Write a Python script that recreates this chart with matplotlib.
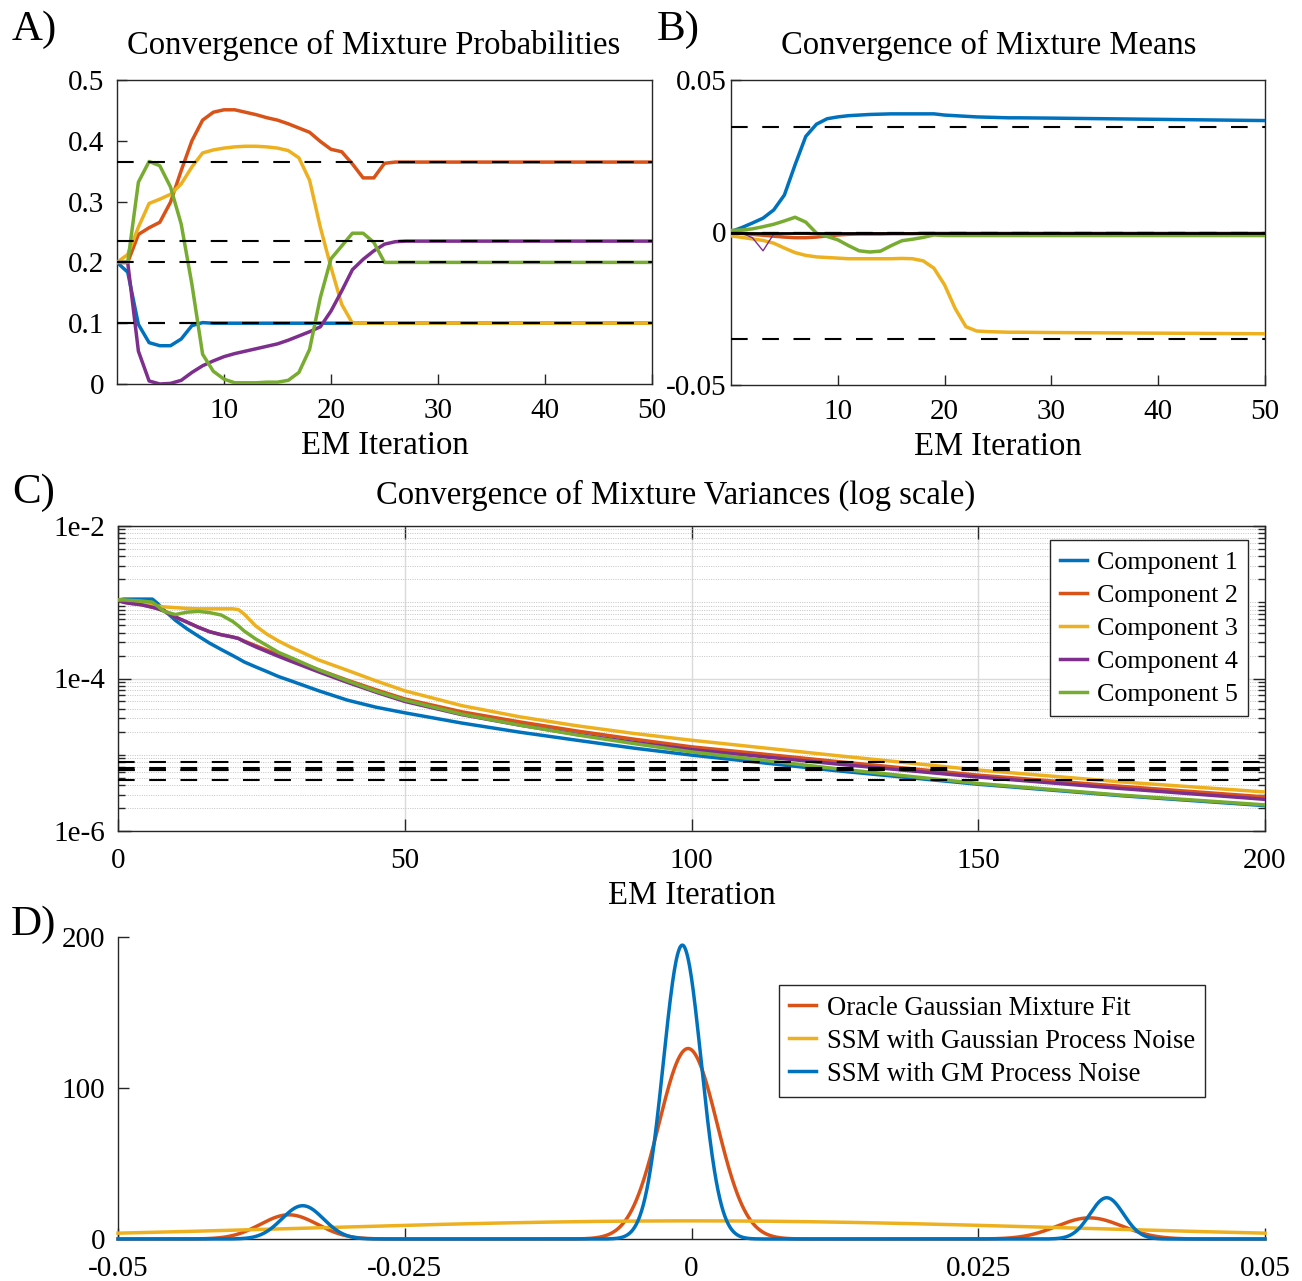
import numpy as np
import matplotlib
matplotlib.use("Agg")
import matplotlib.pyplot as plt
from matplotlib.ticker import FixedLocator, FixedFormatter, NullFormatter

plt.rcParams['font.family'] = ['Liberation Serif', 'DejaVu Serif']
plt.rcParams['axes.unicode_minus'] = False

W, H = 1302, 1281

COLORS = ['#0072BD', '#D95319', '#EDB120', '#7E2F8E', '#77AC30']
COMPONENTS = ['Component 1', 'Component 2', 'Component 3', 'Component 4', 'Component 5']

# ---------------- A) mixture probabilities per EM iteration ----------------
prob_iter = list(range(28)) + [50]
prob_c1 = [0.200, 0.184, 0.098, 0.068, 0.063, 0.063, 0.074, 0.096, 0.101, 0.100,
           0.100, 0.100, 0.100, 0.100, 0.100, 0.100, 0.100, 0.100, 0.100, 0.100,
           0.100, 0.100, 0.100, 0.100, 0.100, 0.100, 0.100, 0.100, 0.100]
prob_c2 = [0.200, 0.200, 0.246, 0.257, 0.266, 0.299, 0.351, 0.400, 0.434, 0.447,
           0.451, 0.451, 0.447, 0.443, 0.438, 0.434, 0.428, 0.421, 0.414, 0.399,
           0.386, 0.382, 0.362, 0.339, 0.339, 0.363, 0.365, 0.365, 0.365]
prob_c3 = [0.200, 0.213, 0.258, 0.297, 0.304, 0.312, 0.329, 0.357, 0.380, 0.385,
           0.388, 0.390, 0.391, 0.391, 0.390, 0.388, 0.384, 0.372, 0.335, 0.258,
           0.192, 0.131, 0.100, 0.100, 0.100, 0.100, 0.100, 0.100, 0.100]
prob_c4 = [0.200, 0.200, 0.054, 0.005, 0.000, 0.001, 0.006, 0.019, 0.030, 0.038,
           0.045, 0.050, 0.054, 0.058, 0.062, 0.066, 0.072, 0.079, 0.086, 0.094,
           0.120, 0.153, 0.188, 0.205, 0.219, 0.230, 0.234, 0.235, 0.235]
prob_c5 = [0.200, 0.200, 0.332, 0.366, 0.359, 0.324, 0.263, 0.164, 0.049, 0.021,
           0.008, 0.002, 0.002, 0.002, 0.003, 0.003, 0.006, 0.019, 0.057, 0.142,
           0.206, 0.227, 0.248, 0.248, 0.233, 0.200, 0.200, 0.200, 0.200]
prob_true = [0.1, 0.365, 0.1, 0.235, 0.2]

# ---------------- B) mixture means per EM iteration ----------------
mean_iter = list(range(28)) + [30, 35, 40, 45, 50]
mean_c1 = [0.0003, 0.0016, 0.0031, 0.0047, 0.0074, 0.0123, 0.0222, 0.0315, 0.0355, 0.0373,
           0.0379, 0.0383, 0.0385, 0.0387, 0.0388, 0.0389, 0.0389, 0.0389, 0.0389, 0.0389,
           0.0385, 0.0383, 0.0381, 0.0379, 0.0378, 0.0377, 0.0376, 0.0376,
           0.0375, 0.0373, 0.0371, 0.0369, 0.0367]
mean_c2 = [0.0000, -0.0003, -0.0006, -0.0009, -0.0012, -0.0015, -0.0017, -0.0017, -0.0015, -0.0011,
           -0.0008, -0.0006, -0.0005, -0.0005, -0.0005, -0.0004, -0.0004, -0.0004, -0.0003, -0.0003,
           -0.0003, -0.0003, -0.0003, -0.0003, -0.0003, -0.0003, -0.0003, -0.0003,
           -0.0003, -0.0003, -0.0003, -0.0003, -0.0003]
mean_c3 = [-0.0011, -0.0016, -0.0021, -0.0026, -0.0035, -0.0051, -0.0066, -0.0075, -0.0080, -0.0082,
           -0.0084, -0.0086, -0.0086, -0.0086, -0.0086, -0.0086, -0.0085, -0.0086, -0.0093, -0.0117,
           -0.0172, -0.0250, -0.0309, -0.0323, -0.0325, -0.0326, -0.0327, -0.0327,
           -0.0328, -0.0329, -0.0330, -0.0331, -0.0332]
mean_c4 = [0.0000, -0.0002, -0.0017, -0.0060, -0.0005, -0.0003, -0.0003, -0.0003, -0.0004, -0.0004,
           -0.0005, -0.0005, -0.0005, -0.0005, -0.0005, -0.0005, -0.0005, -0.0004, -0.0003, -0.0003,
           -0.0002, -0.0002, -0.0002, -0.0002, -0.0002, -0.0002, -0.0002, -0.0002,
           -0.0002, -0.0002, -0.0002, -0.0002, -0.0002]
mean_c5 = [0.0007, 0.0008, 0.0012, 0.0019, 0.0027, 0.0038, 0.0050, 0.0034, -0.0002, -0.0013,
           -0.0024, -0.0043, -0.0060, -0.0064, -0.0061, -0.0043, -0.0027, -0.0022, -0.0016, -0.0008,
           -0.0010, -0.0010, -0.0010, -0.0010, -0.0010, -0.0010, -0.0010, -0.0010,
           -0.0010, -0.0010, -0.0010, -0.0010, -0.0010]
mean_true = [0.0345, 0.0, -0.0349, 0.0, 0.0]

# ---------------- C) mixture variances per EM iteration ----------------
var_iter = [0, 1, 2, 4, 6, 7, 8, 10, 12, 14, 16, 18, 20, 21, 22, 24, 26, 28, 30,
            35, 40, 45, 50, 60, 70, 80, 90, 100, 125, 150, 175, 200]
var_c1 = [1.07e-3, 1.10e-3, 1.10e-3, 1.10e-3, 1.10e-3, 9.5e-4, 7.9e-4, 5.8e-4, 4.5e-4, 3.6e-4,
          2.9e-4, 2.4e-4, 2.0e-4, 1.82e-4, 1.65e-4, 1.42e-4, 1.23e-4, 1.06e-4, 9.4e-5,
          6.9e-5, 5.2e-5, 4.2e-5, 3.55e-5, 2.6e-5, 1.98e-5, 1.55e-5, 1.22e-5, 9.9e-6,
          6.2e-6, 4.1e-6, 2.9e-6, 2.15e-6]
var_c2 = [1.07e-3, 1.0e-3, 9.7e-4, 9.3e-4, 8.6e-4, 8.2e-4, 7.7e-4, 6.4e-4, 5.5e-4, 4.7e-4,
          4.1e-4, 3.75e-4, 3.5e-4, 3.35e-4, 3.1e-4, 2.7e-4, 2.35e-4, 2.05e-4, 1.8e-4,
          1.3e-4, 9.5e-5, 7.1e-5, 5.4e-5, 3.65e-5, 2.7e-5, 2.05e-5, 1.6e-5, 1.27e-5,
          8.2e-6, 5.4e-6, 3.85e-6, 2.8e-6]
var_c3 = [1.07e-3, 1.06e-3, 1.03e-3, 9.8e-4, 9.2e-4, 8.9e-4, 8.7e-4, 8.5e-4, 8.3e-4, 8.2e-4,
          8.2e-4, 8.2e-4, 8.2e-4, 8.0e-4, 7.0e-4, 4.9e-4, 3.8e-4, 3.1e-4, 2.6e-4,
          1.75e-4, 1.28e-4, 9.3e-5, 6.9e-5, 4.4e-5, 3.15e-5, 2.4e-5, 1.9e-5, 1.55e-5,
          9.8e-6, 6.3e-6, 4.4e-6, 3.25e-6]
var_c4 = [1.07e-3, 1.0e-3, 9.7e-4, 9.3e-4, 8.6e-4, 8.2e-4, 7.7e-4, 6.4e-4, 5.5e-4, 4.7e-4,
          4.1e-4, 3.75e-4, 3.5e-4, 3.35e-4, 3.05e-4, 2.6e-4, 2.25e-4, 1.95e-4, 1.7e-4,
          1.22e-4, 8.9e-5, 6.6e-5, 5.0e-5, 3.35e-5, 2.45e-5, 1.85e-5, 1.45e-5, 1.17e-5,
          7.6e-6, 5.1e-6, 3.6e-6, 2.6e-6]
var_c5 = [1.07e-3, 1.07e-3, 1.06e-3, 1.04e-3, 1.0e-3, 8.8e-4, 7.6e-4, 6.9e-4, 7.4e-4, 7.6e-4,
          7.3e-4, 6.8e-4, 5.6e-4, 4.9e-4, 4.2e-4, 3.3e-4, 2.7e-4, 2.2e-4, 1.9e-4,
          1.3e-4, 9.3e-5, 6.8e-5, 5.2e-5, 3.4e-5, 2.45e-5, 1.82e-5, 1.4e-5, 1.09e-5,
          6.6e-6, 4.2e-6, 2.95e-6, 2.2e-6]
var_true = [8.0e-6, 6.7e-6, 6.3e-6, 4.6e-6, 6.3e-6]

# ---------------- D) fitted process-noise densities ----------------
density_names = ['Oracle Gaussian Mixture Fit',
                 'SSM with Gaussian Process Noise',
                 'SSM with GM Process Noise']
density_colors = ['#D95319', '#EDB120', '#0072BD']
oracle_w = [0.1, 0.8, 0.1]
oracle_mu = [-0.0351, -0.0003, 0.0347]
oracle_sd = [0.00249, 0.00253, 0.00285]
gauss_w = [1.0]
gauss_mu = [0.0]
gauss_sd = [0.0332]
gm_w = [0.1, 0.8, 0.1]
gm_mu = [-0.0339, -0.0008, 0.0362]
gm_sd = [0.00181, 0.00164, 0.00146]


def mixture_pdf(x, w, mu, sd):
    x = np.asarray(x)[:, None]
    w, mu, sd = (np.asarray(a)[None, :] for a in (w, mu, sd))
    return (w * np.exp(-0.5 * ((x - mu) / sd) ** 2) / (np.sqrt(2 * np.pi) * sd)).sum(axis=1)


fig = plt.figure(figsize=(W / 100, H / 100), dpi=100)


def px_axes(l, t, r, b):
    return fig.add_axes([l / W, 1 - b / H, (r - l) / W, (b - t) / H])


TICK_FS = 21
TITLE_FS = 23.5
LAB_FS = 23.5
LW = 2.5
DASH = (0, (8, 7))


def matlab_box(ax, all_sides=False):
    for s in ax.spines.values():
        s.set_linewidth(1.0)
        s.set_color('#262626')
    ax.tick_params(which='both', direction='in', width=1.0, color='#262626',
                   labelsize=TICK_FS, top=all_sides, right=all_sides)


# ---- panel A
axA = px_axes(117, 80, 652, 384)
for vals, c in zip([prob_c1, prob_c2, prob_c3, prob_c4, prob_c5], COLORS):
    axA.plot(prob_iter, vals, color=c, lw=LW, zorder=3)
for v in prob_true:
    axA.axhline(v, color='k', lw=1.5, ls=DASH, zorder=4)
axA.set_xlim(0, 50)
axA.set_ylim(0, 0.5)
a_yt = [0, 0.1, 0.2, 0.3, 0.4, 0.5]
axA.set_yticks(a_yt)
axA.set_yticklabels([f'{v:g}' for v in a_yt])
axA.set_xticks([10, 20, 30, 40, 50])
matlab_box(axA)
axA.tick_params(length=7)
axA.tick_params(axis='x', pad=10)
axA.tick_params(axis='y', pad=9)
axA.set_title('Convergence of Mixture Probabilities', fontsize=TITLE_FS, x=0.48, pad=19)
axA.set_xlabel('EM Iteration', fontsize=LAB_FS, labelpad=5)

# ---- panel B
axB = px_axes(731, 80, 1265, 385)
for k, (vals, c) in enumerate(zip([mean_c1, mean_c2, mean_c3, mean_c4, mean_c5], COLORS)):
    axB.plot(mean_iter, vals, color=c, lw=(1.0 if k == 3 else LW), zorder=3)
axB.axhline(0, color='k', lw=2.0, zorder=4)
for v in mean_true:
    axB.axhline(v, color='k', lw=1.5, ls=DASH, zorder=4)
axB.set_xlim(0, 50)
axB.set_ylim(-0.05, 0.05)
b_yt = [-0.05, 0, 0.05]
axB.set_yticks(b_yt)
axB.set_yticklabels([f'{v:g}' for v in b_yt])
axB.set_xticks([10, 20, 30, 40, 50])
matlab_box(axB)
axB.tick_params(length=7)
axB.tick_params(axis='x', pad=10)
axB.tick_params(axis='y', pad=3)
axB.set_title('Convergence of Mixture Means', fontsize=TITLE_FS, x=0.483, pad=19)
axB.set_xlabel('EM Iteration', fontsize=LAB_FS, labelpad=5)

# ---- panel C
axC = px_axes(118, 526, 1265, 831)
axC.set_yscale('log')
lines_c = []
for vals, c, name in zip([var_c1, var_c2, var_c3, var_c4, var_c5], COLORS, COMPONENTS):
    ln, = axC.plot(var_iter, vals, color=c, lw=LW, zorder=3, label=name)
    lines_c.append(ln)
for v in var_true:
    axC.axhline(v, color='k', lw=1.5, ls=DASH, zorder=4)
axC.set_xlim(0, 200)
axC.set_ylim(1e-6, 1e-2)
c_major = [1e-6, 1e-4, 1e-2]
axC.yaxis.set_major_locator(FixedLocator(c_major))
axC.yaxis.set_major_formatter(FixedFormatter(['1e-6', '1e-4', '1e-2']))
c_minor = [k * 10.0 ** n for n in range(-6, -2) for k in range(1, 10)
           if not any(np.isclose(k * 10.0 ** n, m) for m in c_major)]
axC.yaxis.set_minor_locator(FixedLocator(c_minor))
axC.yaxis.set_minor_formatter(NullFormatter())
axC.set_xticks([0, 50, 100, 150, 200])
axC.set_axisbelow(True)
axC.grid(True, which='major', color='#dadada', lw=1.0, ls='-')
axC.grid(True, which='minor', axis='y', color='#c4c4c4', lw=0.7, ls=(0, (1, 1.4)))
matlab_box(axC, all_sides=True)
axC.tick_params(which='major', length=9)
axC.tick_params(which='minor', length=5)
axC.tick_params(axis='x', pad=12)
axC.tick_params(axis='y', pad=9)
axC.set_title('Convergence of Mixture Variances (log scale)', fontsize=TITLE_FS, x=0.4865, pad=16)
axC.set_xlabel('EM Iteration', fontsize=LAB_FS, labelpad=5)
legC = axC.legend(handles=lines_c, loc='upper right', bbox_to_anchor=(0.985, 0.954),
                  fontsize=18.7, frameon=True, fancybox=False, framealpha=1,
                  edgecolor='#262626', handlelength=1.05, handletextpad=0.35,
                  labelspacing=0.38, borderpad=0.4, borderaxespad=0)
legC.get_frame().set_linewidth(1.0)

# ---- panel D
axD = px_axes(118, 937, 1265, 1239)
xs = np.linspace(-0.05, 0.05, 2001)
lines_d = []
for (w, mu, sd), c, name in zip([(oracle_w, oracle_mu, oracle_sd),
                                 (gauss_w, gauss_mu, gauss_sd),
                                 (gm_w, gm_mu, gm_sd)], density_colors, density_names):
    ln, = axD.plot(xs, mixture_pdf(xs, w, mu, sd), color=c, lw=LW, zorder=3,
                   clip_on=False, label=name)
    lines_d.append(ln)
axD.set_xlim(-0.05, 0.05)
axD.set_ylim(0, 200)
d_xt = [-0.05, -0.025, 0, 0.025, 0.05]
axD.set_xticks(d_xt)
axD.set_xticklabels([f'{v:g}' for v in d_xt])
d_yt = [0, 100, 200]
axD.set_yticks(d_yt)
axD.set_yticklabels([f'{v:g}' for v in d_yt])
matlab_box(axD)
axD.spines['top'].set_visible(False)
axD.spines['right'].set_visible(False)
axD.tick_params(length=8)
axD.tick_params(axis='x', pad=12)
axD.tick_params(axis='y', pad=9)
legD = axD.legend(handles=lines_d, loc='upper left', bbox_to_anchor=(0.576, 0.841),
                  fontsize=19.2, frameon=True, fancybox=False, framealpha=1,
                  edgecolor='#262626', handlelength=1.0, handletextpad=0.4,
                  labelspacing=0.3, borderpad=0.4, borderaxespad=0)
legD.get_frame().set_linewidth(1.0)

# ---- panel letters
for letter, (x, y) in {'A)': (12, 40), 'B)': (657, 40), 'C)': (12, 503), 'D)': (11, 935)}.items():
    fig.text(x / W, 1 - y / H, letter, fontsize=31, va='baseline', ha='left')

fig.savefig('out.png', dpi=100, facecolor='white')
